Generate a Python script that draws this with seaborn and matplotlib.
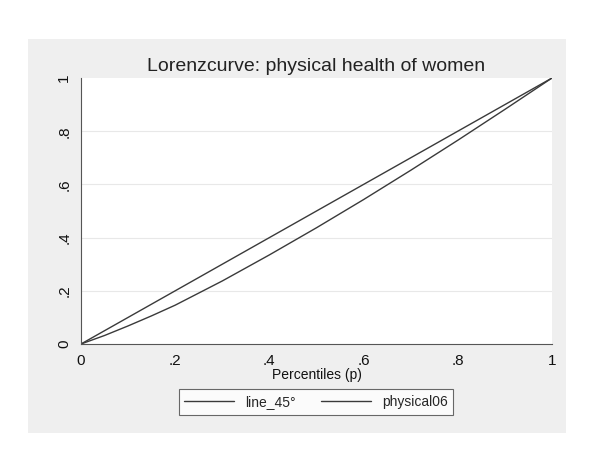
import numpy as np
import pandas as pd
import matplotlib
matplotlib.use("Agg")
import matplotlib.pyplot as plt
import seaborn as sns
from matplotlib.patches import Rectangle

# values
percentiles = [0.0, 0.05, 0.1, 0.15, 0.2, 0.3, 0.4, 0.5, 0.6, 0.7, 0.8, 0.9, 1.0]
line_45 = [0.0, 0.05, 0.1, 0.15, 0.2, 0.3, 0.4, 0.5, 0.6, 0.7, 0.8, 0.9, 1.0]
physical06 = [0.0, 0.032, 0.068, 0.106, 0.146, 0.237, 0.335, 0.437, 0.543, 0.653, 0.766, 0.882, 1.0]
series_names = ["line_45°", "physical06"]
tick_vals = [0, 0.2, 0.4, 0.6, 0.8, 1]
tick_labels = ["0", ".2", ".4", ".6", ".8", "1"]

sns.set_style("white")
plt.rcParams['font.family'] = ['Liberation Sans', 'DejaVu Sans']

df = pd.DataFrame({
    "p": percentiles * 2,
    "value": line_45 + physical06,
    "series": [series_names[0]] * len(line_45) + [series_names[1]] * len(physical06),
})

line_col = "#3a3a3a"
fig = plt.figure(figsize=(6.0, 4.62), dpi=100)
fig.patch.set_facecolor("white")
# gray Stata-like graph region
fig.patches.append(Rectangle((28 / 600, 1 - 433 / 462), (566 - 28) / 600, (433 - 39) / 462,
                             transform=fig.transFigure, facecolor="#efefef",
                             edgecolor="none", zorder=-10))

ax = fig.add_axes([81 / 600, 1 - 344 / 462, (552 - 81) / 600, (344 - 78) / 462])
ax.set_facecolor("white")
ax.set_zorder(1)

sns.lineplot(data=df, x="p", y="value", hue="series",
             palette={series_names[0]: line_col, series_names[1]: line_col},
             linewidth=1.0, ax=ax, legend=False, estimator=None, sort=False)

ax.set_xlim(0, 1)
ax.set_ylim(0, 1)
ax.set_xticks(tick_vals)
ax.set_xticklabels(tick_labels, fontsize=11)
ax.set_yticks(tick_vals)
ax.set_yticklabels(tick_labels, fontsize=11, rotation=90, va="center")
for y in tick_vals[1:-1]:
    ax.axhline(y, color="#e8e8e8", linewidth=0.8, zorder=0)

for s in ["top", "right"]:
    ax.spines[s].set_visible(False)
for s in ["left", "bottom"]:
    ax.spines[s].set_color("#555555")
    ax.spines[s].set_linewidth(0.8)
ax.tick_params(axis="both", direction="out", length=4, width=0.8, color="#555555",
               pad=3, labelcolor="#111111")

ax.set_xlabel("Percentiles (p)", fontsize=10, labelpad=0, color="#111111")
ax.set_ylabel("")
ax.set_title("Lorenzcurve: physical health of women", fontsize=14, pad=5, color="#222222")

handles = [plt.Line2D([], [], color=line_col, linewidth=1.0) for _ in series_names]
leg = fig.legend(handles, series_names, loc="center", bbox_to_anchor=(316 / 600, 1 - 402 / 462),
                 ncol=2, frameon=True, fancybox=False, fontsize=10, handlelength=3.6,
                 columnspacing=1.8, borderpad=0.4, handletextpad=0.8)
leg.get_frame().set_edgecolor("#444444")
leg.get_frame().set_linewidth(0.8)
leg.get_frame().set_facecolor("white")

fig.savefig("out.png", dpi=100, facecolor="white")
